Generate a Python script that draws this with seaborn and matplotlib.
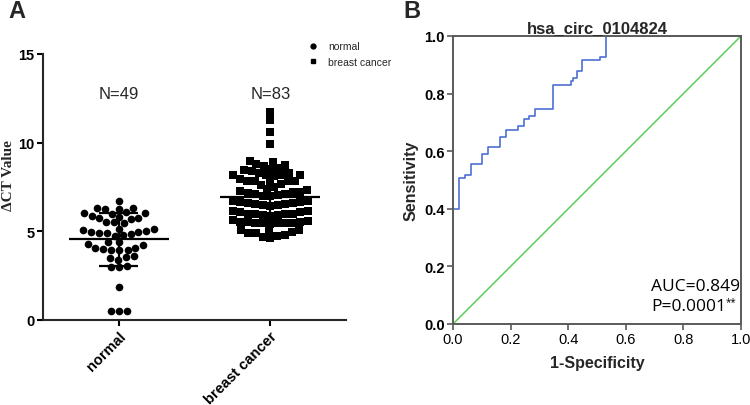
import matplotlib
matplotlib.use("Agg")
import matplotlib.pyplot as plt
from matplotlib.lines import Line2D
import numpy as np
import pandas as pd
import seaborn as sns

# ---------------- data ----------------
groups = ["normal", "breast cancer"]

normal = [6.71,
          6.30, 6.24, 6.26, 6.32,
          6.07, 6.02, 6.00, 6.05,
          5.85, 5.78, 5.72, 5.75, 5.82,
          5.50, 5.45, 5.50,
          5.12, 5.15,
          5.00, 4.90, 4.85, 4.95, 4.90, 4.98, 5.08,
          4.75, 4.78,
          4.38, 4.28, 4.25, 4.38,
          4.06, 3.97, 3.97, 4.02, 3.92, 4.06,
          3.62, 3.55, 3.48, 3.40,
          3.06, 2.97, 2.97,
          1.88,
          0.49, 0.49, 0.49]

breast_cancer = [11.71, 11.30, 10.58, 9.92,
                 8.90, 8.74, 8.70, 8.78, 8.97,
                 8.52, 8.42, 8.46, 8.55,
                 8.29, 8.18, 8.14, 8.18, 8.18, 8.18, 8.29,
                 7.86, 7.95, 7.67, 7.86, 7.80, 7.63, 7.86, 7.86,
                 7.39, 7.48,
                 7.25, 7.15, 7.10, 7.05, 7.02, 7.02, 7.08, 7.20, 7.22, 7.35,
                 6.72, 6.65, 6.58, 6.52, 6.47, 6.43, 6.47, 6.52, 6.58, 6.65, 6.72,
                 6.15, 6.08, 6.00, 5.95, 5.90, 5.85, 5.90, 5.95, 6.00, 6.08, 6.15,
                 5.60, 5.55, 5.45, 5.45, 5.45, 5.42, 5.45, 5.45, 5.50, 5.55, 5.62,
                 5.10, 5.02, 4.92, 4.82, 4.70, 4.62, 4.75, 4.88, 4.98, 5.08]

# ROC curve corner points (1-specificity, sensitivity)
roc_fpr = [0.0, 0.0, 0.020, 0.041, 0.061, 0.102, 0.122, 0.163, 0.184, 0.224,
           0.245, 0.265, 0.286, 0.347, 0.408, 0.418, 0.429, 0.449, 0.510, 0.531, 1.0]
roc_tpr = [0.0, 0.398, 0.506, 0.518, 0.554, 0.590, 0.614, 0.651, 0.675, 0.687,
           0.711, 0.723, 0.747, 0.831, 0.843, 0.855, 0.880, 0.916, 0.928, 1.0, 1.0]
ref_line = [0.0, 1.0]

a_yticks = [0, 5, 10, 15]
b_ticks = [0.0, 0.2, 0.4, 0.6, 0.8, 1.0]
auc_text = "AUC=0.849"
p_text = "P=0.0001"
p_mark = "**"

# ---------------- style ----------------
sns.set_theme(style="ticks")
plt.rcParams["font.family"] = ["Liberation Sans", "DejaVu Sans"]

fig = plt.figure(figsize=(7.5, 4.06), dpi=100)
axA = fig.add_axes([43 / 750, 1 - 321 / 406, 303 / 750, 266 / 406])
axB = fig.add_axes([453 / 750, 1 - 325 / 406, 288 / 750, 288 / 406])

# ---------------- panel A ----------------
df = pd.DataFrame({"group": ["normal"] * len(normal) + ["breast cancer"] * len(breast_cancer),
                   "value": normal + breast_cancer})

sns.swarmplot(data=df[df.group == "normal"], x="group", y="value", order=groups,
              marker="o", color="black", size=5.5, linewidth=0, ax=axA)
sns.swarmplot(data=df[df.group == "breast cancer"], x="group", y="value", order=groups,
              marker="s", color="black", size=5.2, linewidth=0, ax=axA)

for i, vals in enumerate([normal, breast_cancer]):
    v = np.asarray(vals)
    m, s = v.mean(), v.std(ddof=1)
    axA.hlines(m, i - 0.33, i + 0.33, color="black", lw=1.6, zorder=4)
    axA.hlines([m - s, m + s], i - 0.13, i + 0.13, color="black", lw=1.6, zorder=4)
    axA.vlines(i, m - s, m + s, color="black", lw=1.6, zorder=4)
    axA.text(i, 12.75, f"N={len(v)}", ha="center", va="center", fontsize=12)

axA.set_xlim(-0.5, 1.5)
axA.set_ylim(0, 15)
axA.set_yticks(a_yticks)
axA.set_yticklabels([str(t) for t in a_yticks], fontweight="bold", fontsize=10.5)
axA.set_xticks([0, 1])
axA.set_xticklabels(groups, rotation=45, ha="right", rotation_mode="anchor",
                    fontweight="bold", fontsize=10.5)
axA.set_xlabel("")
axA.set_ylabel("ΔCT Value", family=["Liberation Serif", "DejaVu Serif"],
               fontweight="bold", fontsize=11)
axA.yaxis.set_label_coords(-0.092, 0.545)
sns.despine(ax=axA)
for sp in ["left", "bottom"]:
    axA.spines[sp].set_linewidth(1.5)
axA.tick_params(axis="both", length=4, width=1.5, pad=2, colors="black")

handles = [Line2D([], [], marker="o", ls="", color="black", markersize=3.5),
           Line2D([], [], marker="s", ls="", color="black", markersize=3.2)]
fig.legend(handles, groups, loc="upper left", bbox_to_anchor=(303 / 750, 1 - 37 / 406),
           frameon=False, fontsize=7.5, handletextpad=0.9, labelspacing=0.55,
           borderpad=0, handlelength=1.0)

# ---------------- panel B ----------------
sns.lineplot(x=ref_line, y=ref_line, color="#5ccf5c", lw=1.1, ax=axB)
sns.lineplot(x=roc_fpr, y=roc_tpr, sort=False, estimator=None, drawstyle="steps-post",
             color="#4d6fd6", lw=1.2, ax=axB)

axB.set_xlim(0, 1)
axB.set_ylim(0, 1)
axB.set_xticks(b_ticks)
axB.set_yticks(b_ticks)
axB.set_xticklabels([f"{t:.1f}" for t in b_ticks], fontsize=10.5)
axB.set_yticklabels([f"{t:.1f}" for t in b_ticks], fontsize=10.5, fontweight="bold")
for sp in axB.spines.values():
    sp.set_color("#5a5a5a")
    sp.set_linewidth(1.4)
axB.tick_params(axis="both", length=4, width=1.2, pad=2, color="#5a5a5a", labelcolor="black")
axB.set_title("hsa_circ_0104824", fontweight="bold", fontsize=12, pad=3)
axB.set_xlabel("1-Specificity", fontweight="bold", fontsize=11.5, labelpad=6)
axB.set_ylabel("Sensitivity", fontweight="bold", fontsize=11.5, labelpad=4)
axB.text(0.687, 0.132, auc_text, ha="left", va="center", fontsize=12.5,
         color="black", family=["Open Sans", "DejaVu Sans"])
ptxt = axB.text(0.687, 0.062, p_text, ha="left", va="center",
                fontsize=12.5, color="black", family=["Open Sans", "DejaVu Sans"])
axB.annotate(p_mark, xy=(1.0, 0.78), xycoords=ptxt, ha="left", va="center",
             fontsize=7, color="black", family=["Open Sans", "DejaVu Sans"])

# panel labels
fig.text(8 / 750, 1 - 12 / 406, "A", fontsize=17, fontweight="bold", va="center")
fig.text(403 / 750, 1 - 12 / 406, "B", fontsize=17, fontweight="bold", va="center")

fig.savefig("out.png", dpi=100)
